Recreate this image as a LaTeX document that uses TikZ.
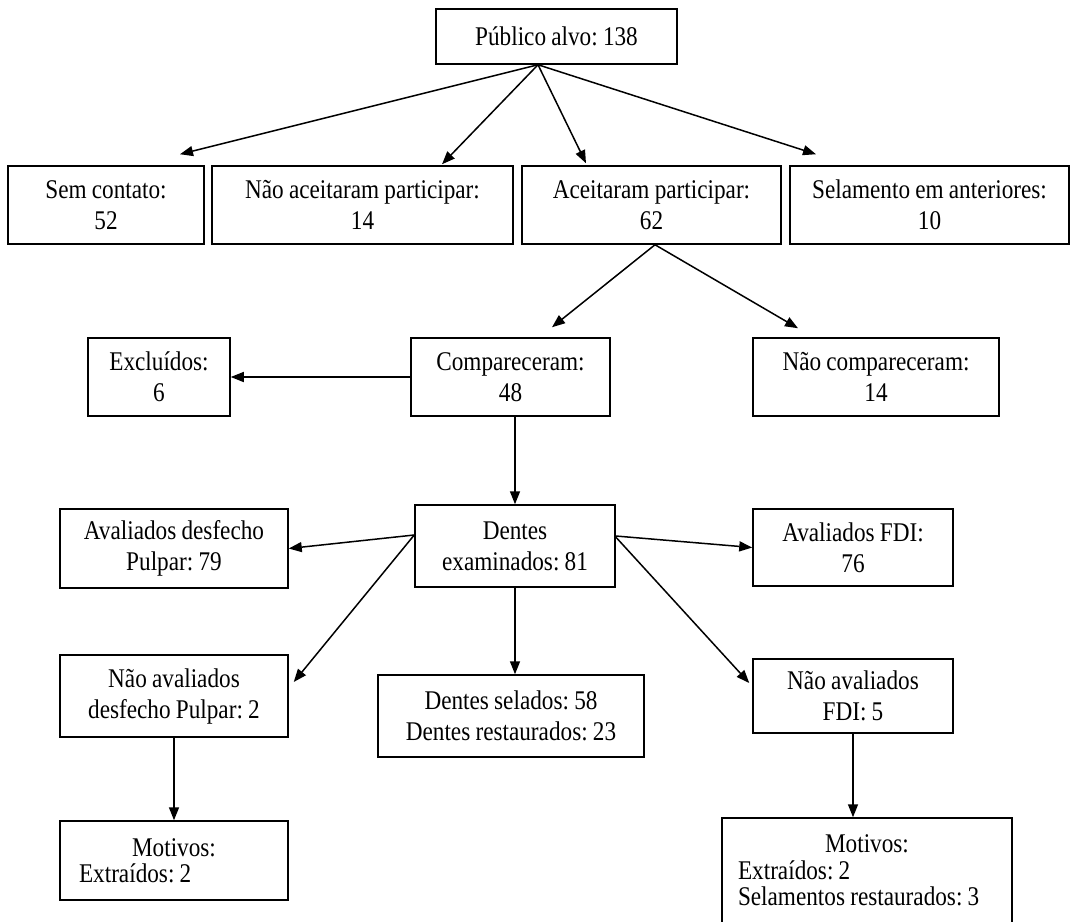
\documentclass[tikz,border=0pt]{standalone}
\usepackage{fontspec}
\setmainfont{Liberation Serif}[FakeStretch=0.86,WordSpace=0.9]
\usetikzlibrary{arrows.meta,calc}
\begin{document}
\frenchspacing
\begin{tikzpicture}[x=1pt,y=-1pt,
  box/.style={draw, line width=1.5pt, inner sep=0pt, align=center,
    font=\fontsize{27}{31}\selectfont\frenchspacing},
  listbox/.style={draw, line width=1.5pt, inner sep=0pt, align=flush left,
    font=\fontsize{27}{26.5}\selectfont\frenchspacing},
  arr/.style={line width=1.5pt, -{Triangle[length=13pt,width=10pt]}}]
\useasboundingbox (0,0) rectangle (1075,921);
\node[box, minimum width=241pt, minimum height=55pt] (pub) at (556.5,36.5) {Público alvo: 138};
\node[box, minimum width=196pt, minimum height=78pt] (sem) at (106,205) {Sem contato:\\52};
\node[box, minimum width=301pt, minimum height=78pt] (nao) at (362.5,205) {Não aceitaram participar:\\14};
\node[box, minimum width=259pt, minimum height=78pt] (ace) at (651.5,205) {Aceitaram participar:\\62};
\node[box, minimum width=279pt, minimum height=78pt] (sel) at (929.5,205) {Selamento em anteriores:\\10};
\node[box, minimum width=142pt, minimum height=78pt] (excl) at (159,377) {Excluídos:\\6};
\node[box, minimum width=199pt, minimum height=78pt] (comp) at (510.5,377) {Compareceram:\\48};
\node[box, minimum width=246pt, minimum height=78pt] (ncomp) at (876,377) {Não compareceram:\\14};
\node[box, minimum width=200pt, minimum height=82pt] (dent) at (515,546) {Dentes\\examinados: 81};
\node[box, minimum width=228pt, minimum height=79pt] (avd) at (174,548.5) {Avaliados desfecho\\Pulpar: 79};
\node[box, minimum width=200pt, minimum height=77pt] (avf) at (853,547.5) {Avaliados FDI:\\76};
\node[box, minimum width=228pt, minimum height=82pt] (nad) at (174,696) {Não avaliados\\desfecho Pulpar: 2};
\node[box, minimum width=266pt, minimum height=82pt] (dsel) at (511,716) {Dentes selados: 58\\Dentes restaurados: 23};
\node[box, minimum width=200pt, minimum height=74pt] (naf) at (853,696) {Não avaliados\\FDI: 5};
\node[listbox, minimum width=228pt, minimum height=79pt, text width=190pt] (mot1) at (174,860.5)
  {\makebox[\linewidth][c]{Motivos:}\\Extraídos: 2};
\node[listbox, minimum width=290pt, minimum height=105pt, text width=258pt] (mot2) at (867,870.5)
  {\makebox[\linewidth][c]{Motivos:}\\Extraídos: 2\\Selamentos restaurados: 3};
% connectors
\draw[arr] ([xshift=-18.5pt]pub.south) -- ([xshift=74pt,yshift=11pt]sem.north);
\draw[arr] ([xshift=-18.5pt]pub.south) -- ([xshift=79.5pt,yshift=1pt]nao.north);
\draw[arr] ([xshift=-18.5pt]pub.south) -- ([xshift=-65.5pt,yshift=2pt]ace.north);
\draw[arr] ([xshift=-18.5pt]pub.south) -- ([xshift=-113.5pt,yshift=11pt]sel.north);
\draw[arr] ([xshift=3.5pt]ace.south) -- ([xshift=41.5pt,yshift=10pt]comp.north);
\draw[arr] ([xshift=3.5pt]ace.south) -- ([xshift=-78pt,yshift=9pt]ncomp.north);
\draw[arr] (comp.west) -- (excl.east);
\draw[arr] (comp.south -| dent.north) -- (dent.north);
\draw[arr] ([yshift=11pt]dent.west) -- (avd.east);
\draw[arr] ([yshift=10pt]dent.east) -- (avf.west);
\draw[arr] ([yshift=11pt]dent.west) -- ([xshift=5pt,yshift=14pt]nad.east);
\draw[arr] ([yshift=9pt]dent.east) -- ([xshift=-3pt,yshift=13pt]naf.west);
\draw[arr] (dent.south) -- (dent.south |- dsel.north);
\draw[arr] (nad.south) -- (nad.south |- mot1.north);
\draw[arr] (naf.south) -- (naf.south |- mot2.north);
\end{tikzpicture}
\end{document}
